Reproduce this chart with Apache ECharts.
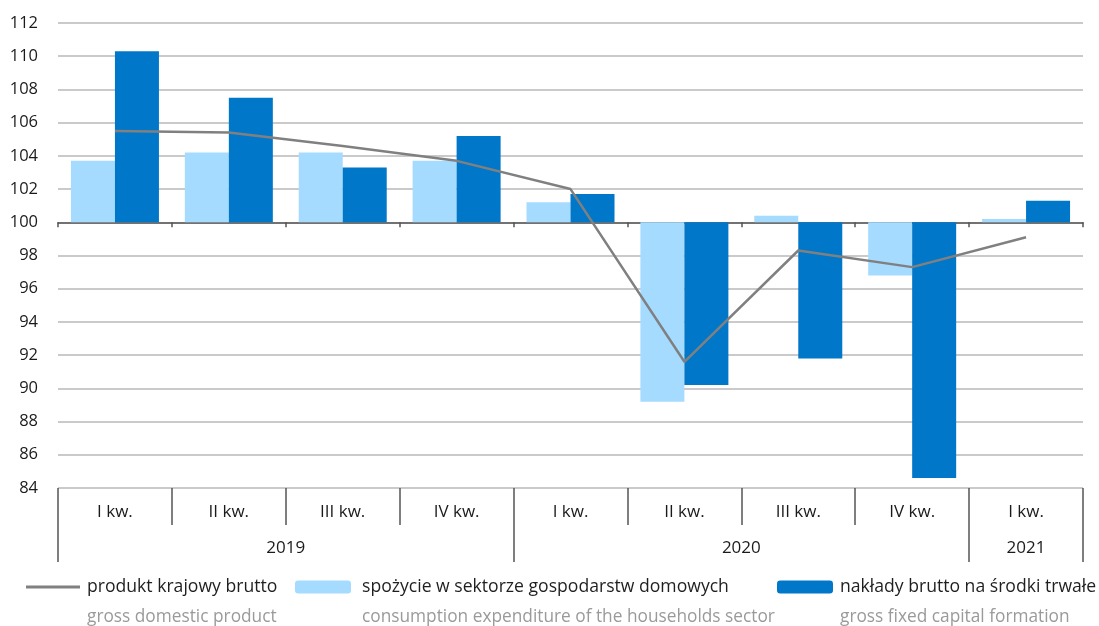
<!DOCTYPE html>
<html>
<head>
<meta charset="utf-8">
<script src="https://cdn.jsdelivr.net/npm/echarts@6/dist/echarts.min.js"></script>
<style>
  html, body { margin: 0; padding: 0; background: #fff; }
  #chart { width: 1099px; height: 626px; }
</style>
</head>
<body>
<div id="chart"></div>
<script>
// Quarterly dynamics, previous year = 100
const quarters = ['I kw.', 'II kw.', 'III kw.', 'IV kw.', 'I kw.', 'II kw.', 'III kw.', 'IV kw.', 'I kw.'];
const years = ['2019', '2020', '2021'];
const yearSpans = [4, 4, 1];

const gdp         = [105.5, 105.4, 104.6, 103.7, 102.0, 91.6, 98.3, 97.3, 99.1];
const consumption = [103.7, 104.2, 104.2, 103.7, 101.2, 89.2, 100.4, 96.8, 100.2];
const investment  = [110.3, 107.5, 103.3, 105.2, 101.7, 90.2, 91.8, 84.6, 101.3];

const namesPl = ['produkt krajowy brutto', 'spożycie w sektorze gospodarstw domowych', 'nakłady brutto na środki trwałe'];
const namesEn = ['gross domestic product', 'consumption expenditure of the households sector', 'gross fixed capital formation'];

const yTicks = { min: 84, max: 112, step: 2 };
const BASE = 100; // bars grow from the 100 level

const FONT = '"Open Sans", "Noto Sans", sans-serif';
const rel = arr => arr.map(v => +(v - BASE).toFixed(2));

// year group boundaries and centres on a 0..n value scale
const bounds = [0];
yearSpans.forEach(s => bounds.push(bounds[bounds.length - 1] + s));
const centres = yearSpans.map((s, i) => bounds[i] + s / 2);

const chart = echarts.init(document.getElementById('chart'), null, { renderer: 'canvas' });

const legendItem = (name, left, width, height, pad, extra) => ({
  top: 578, left, padding: 0, itemWidth: width, itemHeight: height, itemGap: 0,
  selectedMode: false,
  textStyle: { fontFamily: FONT, fontSize: 17.6, color: '#1f1f1f', padding: [0, 0, 0, pad] },
  data: [Object.assign({ name }, extra || {})]
});

chart.setOption({
  animation: false,
  grid: { left: 58, right: 16, top: 23, bottom: 138 },
  yAxis: {
    type: 'value',
    min: yTicks.min - BASE, max: yTicks.max - BASE, interval: yTicks.step,
    axisLine: { show: false }, axisTick: { show: false },
    axisLabel: { formatter: v => String(v + BASE), fontFamily: FONT, fontSize: 16.5, color: '#1a1a1a', margin: 20 },
    splitLine: { lineStyle: { color: '#b8b8b8', width: 1.5 } }
  },
  xAxis: [
    { // baseline at 100 with short ticks
      type: 'category', data: quarters, position: 'bottom',
      axisLine: { onZero: true, lineStyle: { color: '#555', width: 1.5 } },
      axisTick: { show: true, length: 5, interval: 0, lineStyle: { color: '#555', width: 1.5 } },
      axisLabel: { show: false }
    },
    { // quarter row
      type: 'category', data: quarters, position: 'bottom',
      axisLine: { show: false, onZero: false },
      axisTick: { show: true, length: 37, interval: 0, lineStyle: { color: '#555', width: 1.5 } },
      axisLabel: { interval: 0, margin: 16, fontFamily: FONT, fontSize: 17, color: '#1a1a1a' }
    },
    { // year row
      type: 'value', min: 0, max: quarters.length, position: 'bottom',
      axisLine: { show: false, onZero: false },
      splitLine: { show: false },
      axisTick: { show: true, length: 74, customValues: bounds, lineStyle: { color: '#555', width: 1.5 } },
      axisLabel: {
        customValues: centres, margin: 52, fontFamily: FONT, fontSize: 17, color: '#1a1a1a',
        formatter: v => { const i = centres.indexOf(v); return i >= 0 ? years[i] : ''; }
      }
    }
  ],
  legend: [
    legendItem(namesPl[0], 26, 54, 3, 2, { icon: 'rect' }),
    legendItem(namesPl[1], 295, 56, 13, 6),
    legendItem(namesPl[2], 777, 56, 13, 2)
  ],
  graphic: namesEn.map((t, i) => ({
    type: 'text', left: [87, 362, 840][i], top: 609,
    style: { text: t, fontFamily: FONT, fontSize: 17.3, fill: '#9a9a9a' }
  })),
  series: [
    {
      name: namesPl[0], type: 'line', data: rel(gdp), xAxisIndex: 0,
      symbol: 'none', z: 5,
      lineStyle: { color: '#808080', width: 2.5 }, itemStyle: { color: '#808080' }
    },
    {
      name: namesPl[1], type: 'bar', data: rel(consumption), xAxisIndex: 0,
      barWidth: 44, barGap: '0%', itemStyle: { color: '#a5dbff' }
    },
    {
      name: namesPl[2], type: 'bar', data: rel(investment), xAxisIndex: 0,
      barWidth: 44, barGap: '0%', itemStyle: { color: '#0077c8' }
    }
  ]
});
</script>
</body>
</html>
